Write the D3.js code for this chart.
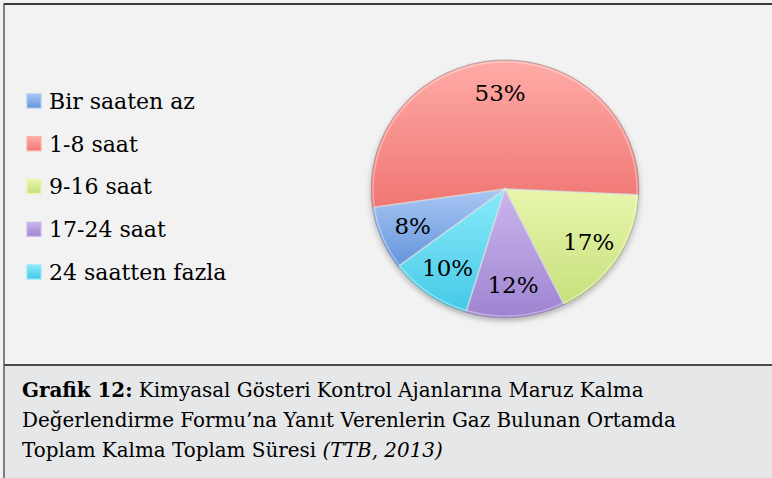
<!DOCTYPE html>
<html>
<head>
<meta charset="utf-8">
<script src="https://cdn.jsdelivr.net/npm/d3@7"></script>
<style>
  body { margin: 0; background: #fff; }
  svg { display: block; }
</style>
</head>
<body>
<svg width="772" height="478"></svg>
<script>
// data
const categories = ["Bir saaten az", "1-8 saat", "9-16 saat", "17-24 saat", "24 saatten fazla"];
const values = [8, 53, 17, 12, 10];
const colorsLight = ["#a9c8f4", "#ffaba7", "#e8f6ac", "#cbb6ee", "#8aeafa"];
const colorsDark = ["#6393db", "#ef7672", "#c6e07c", "#9e84d1", "#45c9e7"];
const captionBold = "Grafik 12:";
const captionLines = [
  " Kimyasal Gösteri Kontrol Ajanlarına Maruz Kalma",
  "Değerlendirme Formu’na Yanıt Verenlerin Gaz Bulunan Ortamda",
  "Toplam Kalma Toplam Süresi "
];
const captionSource = "(TTB, 2013)";

const svg = d3.select("svg");
const font = "'DejaVu Serif', serif";

// backgrounds
svg.append("rect").attr("x", 0).attr("y", 0).attr("width", 772).attr("height", 478).attr("fill", "#f2f2f2");
svg.append("rect").attr("x", 4).attr("y", 365).attr("width", 768).attr("height", 113).attr("fill", "#e6e7e8");
svg.append("line").attr("x1", 4).attr("x2", 772).attr("y1", 4).attr("y2", 4)
  .attr("stroke", "#3a3a3a").attr("stroke-width", 2);
svg.append("line").attr("x1", 4).attr("x2", 4).attr("y1", 3).attr("y2", 478)
  .attr("stroke", "#5a5a5a").attr("stroke-width", 1.5);
svg.append("line").attr("x1", 4).attr("x2", 772).attr("y1", 365).attr("y2", 365)
  .attr("stroke", "#4a4a4a").attr("stroke-width", 2);

const defs = svg.append("defs");
categories.forEach(function(c, i) {
  const g = defs.append("linearGradient").attr("id", "grad" + i)
    .attr("x1", 0).attr("y1", 0).attr("x2", 0).attr("y2", 1);
  g.append("stop").attr("offset", "0%").attr("stop-color", colorsLight[i]);
  g.append("stop").attr("offset", "100%").attr("stop-color", colorsDark[i]);
});
const sh = defs.append("filter").attr("id", "shadow").attr("x", "-10%").attr("y", "-10%").attr("width", "120%").attr("height", "125%");
sh.append("feGaussianBlur").attr("in", "SourceAlpha").attr("stdDeviation", 3);
sh.append("feOffset").attr("dx", 0).attr("dy", 3).attr("result", "b");
sh.append("feComponentTransfer").append("feFuncA").attr("type", "linear").attr("slope", 0.25);
const m = sh.append("feMerge");
m.append("feMergeNode");
m.append("feMergeNode").attr("in", "SourceGraphic");

// pie
const cx = 505, cy = 189, radius = 134;
const startAngle = 233 * Math.PI / 180;
const pie = d3.pie().sort(null).value(function(d) { return d; })
  .startAngle(startAngle).endAngle(startAngle + 2 * Math.PI);
const arc = d3.arc().innerRadius(0).outerRadius(radius);
const labelArc = d3.arc().innerRadius(100).outerRadius(100);
const arcs = pie(values);

const pg = svg.append("g")
  .attr("transform", "translate(" + cx + "," + cy + ") scale(1,0.963)")
  .attr("filter", "url(#shadow)");

pg.selectAll(".slice")
  .data(arcs)
  .enter().append("path")
  .attr("class", "slice")
  .attr("d", arc)
  .attr("fill", function(d, i) { return "url(#grad" + i + ")"; })
  .attr("stroke", "#8c8c8c")
  .attr("stroke-opacity", 0.6)
  .attr("stroke-width", 1);

// inner highlight to mimic bevel
pg.selectAll(".hl")
  .data(arcs)
  .enter().append("path")
  .attr("class", "hl")
  .attr("d", d3.arc().innerRadius(0).outerRadius(radius - 2))
  .attr("fill", "none")
  .attr("stroke", "#ffffff")
  .attr("stroke-opacity", 0.35)
  .attr("stroke-width", 1.5);

const lg = svg.append("g").attr("transform", "translate(" + cx + "," + cy + ")");
lg.selectAll(".lbl")
  .data(arcs)
  .enter().append("text")
  .attr("class", "lbl")
  .attr("x", function(d) { return labelArc.centroid(d)[0]; })
  .attr("y", function(d) { return labelArc.centroid(d)[1] * 0.963; })
  .attr("dy", "0.36em")
  .attr("text-anchor", "middle")
  .attr("font-family", font)
  .attr("font-size", 23)
  .attr("fill", "#000")
  .text(function(d) { return d.data + "%"; });

// legend
const legend = svg.append("g").attr("class", "legend");
const rowY = d3.scalePoint().domain(categories).range([101, 272]);
const items = legend.selectAll(".item")
  .data(categories)
  .enter().append("g")
  .attr("class", "item")
  .attr("transform", function(d) { return "translate(27," + rowY(d) + ")"; });
items.append("rect")
  .attr("x", 0).attr("y", -7).attr("width", 14).attr("height", 14)
  .attr("fill", function(d, i) { return "url(#grad" + i + ")"; })
  .attr("stroke", function(d, i) { return colorsLight[i]; })
  .attr("stroke-width", 1.2);
items.append("text")
  .attr("x", 22)
  .attr("dy", "0.36em")
  .attr("font-family", font)
  .attr("font-size", 22)
  .attr("fill", "#000")
  .text(function(d) { return d; });

// caption
const cap = svg.append("g").attr("font-family", font).attr("font-size", 19.9).attr("fill", "#000");
const lineY = [397, 427, 457];
const t1 = cap.append("text").attr("x", 22).attr("y", lineY[0]);
t1.append("tspan").attr("font-weight", "bold").text(captionBold);
t1.append("tspan").text(captionLines[0]);
cap.append("text").attr("x", 22).attr("y", lineY[1]).text(captionLines[1]);
const t3 = cap.append("text").attr("x", 22).attr("y", lineY[2]);
t3.append("tspan").text(captionLines[2]);
t3.append("tspan").attr("font-style", "italic").text(captionSource);
</script>
</body>
</html>
